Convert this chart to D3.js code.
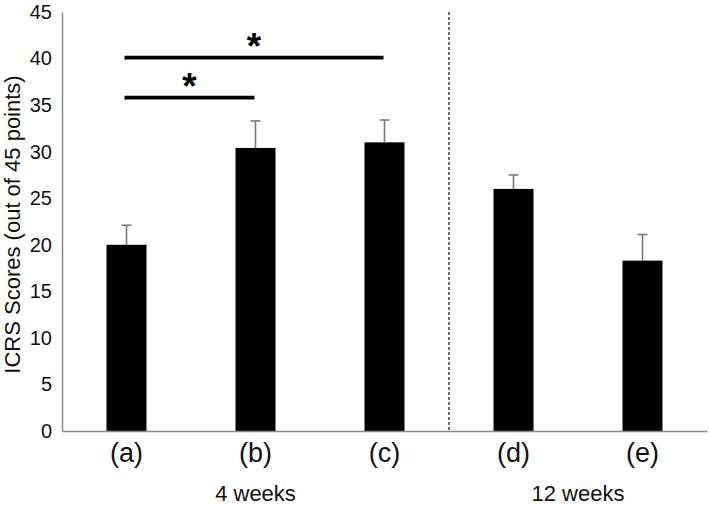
<!DOCTYPE html>
<html>
<head>
<meta charset="utf-8">
<script src="https://cdn.jsdelivr.net/npm/d3@7"></script>
<style>
  html, body { margin: 0; padding: 0; background: #fff; }
  svg { display: block; font-family: "Liberation Sans", Arial, sans-serif; }
</style>
</head>
<body>
<svg id="chart" width="709" height="505"></svg>
<script>
// ---- data ----
const categories = ["(a)", "(b)", "(c)", "(d)", "(e)"];
const values = [20.0, 30.4, 31.0, 26.0, 18.3];
const errors = [2.1, 2.9, 2.4, 1.5, 2.8];
const yTicks = [0, 5, 10, 15, 20, 25, 30, 35, 40, 45];
const yTitle = "ICRS Scores (out of 45 points)";
const groupLabels = ["4 weeks", "12 weeks"];
const groupMembers = [["(a)", "(b)", "(c)"], ["(d)", "(e)"]];
const sigFrom = ["(a)", "(a)"];
const sigTo = ["(b)", "(c)"];
const sigLevel = [35.8, 40.1];
const sigMark = ["*", "*"];

// ---- layout ----
const svg = d3.select("#chart");
const x = d3.scaleBand().domain(categories).range([62, 707]).paddingInner(0.69).paddingOuter(0.345);
const y = d3.scaleLinear().domain([0, 45]).range([431, 12]);
const cx = c => x(c) + x.bandwidth() / 2;
const axisColor = "#8a8a8a";

// bars
svg.append("g").selectAll("rect").data(categories).join("rect")
  .attr("x", d => x(d)).attr("width", x.bandwidth())
  .attr("y", (d, i) => y(values[i]))
  .attr("height", (d, i) => y(0) - y(values[i]))
  .attr("fill", "#000");

// error bars (upper)
const eb = svg.append("g").attr("stroke", "#7a7a7a").attr("stroke-width", 1.6);
categories.forEach((c, i) => {
  eb.append("line").attr("x1", cx(c)).attr("x2", cx(c))
    .attr("y1", y(values[i])).attr("y2", y(values[i] + errors[i]));
  eb.append("line").attr("x1", cx(c) - 5).attr("x2", cx(c) + 5)
    .attr("y1", y(values[i] + errors[i])).attr("y2", y(values[i] + errors[i]));
});

// y axis
const yAxis = d3.axisLeft(y).tickValues(yTicks).tickSize(0).tickPadding(10);
const gy = svg.append("g").attr("transform", "translate(62,0)").call(yAxis);
gy.select(".domain").attr("stroke", axisColor).attr("stroke-width", 1.5);
gy.selectAll("text").attr("font-size", 20).attr("fill", "#111")
  .attr("font-family", "Liberation Sans, Arial, sans-serif");

// x axis
const xAxis = d3.axisBottom(x).tickSize(0).tickPadding(12);
const gx = svg.append("g").attr("transform", "translate(0,431)").call(xAxis);
gx.select(".domain").attr("stroke", axisColor).attr("stroke-width", 1.5);
gx.selectAll("text").attr("font-size", 27).attr("fill", "#111")
  .attr("font-family", "Liberation Sans, Arial, sans-serif");

// dashed separator between groups
const sepX = (cx("(c)") + cx("(d)")) / 2;
svg.append("line").attr("x1", sepX).attr("x2", sepX)
  .attr("y1", y(45)).attr("y2", y(0))
  .attr("stroke", "#222").attr("stroke-width", 1.3).attr("stroke-dasharray", "3,2");

// group labels
groupLabels.forEach((g, i) => {
  const m = groupMembers[i];
  const mid = d3.mean(m, cx);
  svg.append("text").attr("x", mid).attr("y", 501)
    .attr("text-anchor", "middle").attr("font-size", 22).attr("fill", "#111").text(g);
});

// y title
svg.append("text")
  .attr("transform", `translate(20,${(y(45) + y(0)) / 2 + 3}) rotate(-90)`)
  .attr("text-anchor", "middle").attr("font-size", 22).attr("fill", "#111")
  .text(yTitle);

// significance brackets
sigFrom.forEach((f, i) => {
  const x1 = cx(f) - 2, x2 = cx(sigTo[i]) - 1;
  svg.append("line").attr("x1", x1).attr("x2", x2)
    .attr("y1", y(sigLevel[i])).attr("y2", y(sigLevel[i]))
    .attr("stroke", "#000").attr("stroke-width", 3.6);
  svg.append("text").attr("x", (x1 + x2) / 2).attr("y", y(sigLevel[i]) + 1)
    .attr("text-anchor", "middle").attr("font-size", 37).attr("font-weight", "bold")
    .attr("fill", "#000").text(sigMark[i]);
});
</script>
</body>
</html>
